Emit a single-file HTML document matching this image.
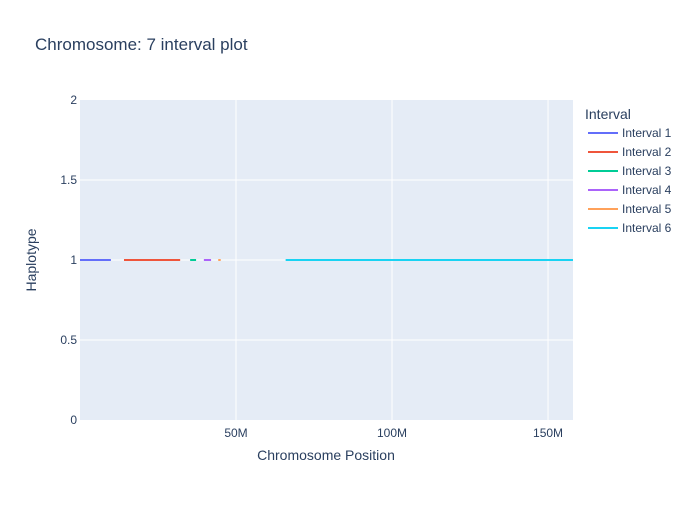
<!DOCTYPE html>
<html><head><meta charset="utf-8"><style>
body{margin:0;background:#fff;font-family:"Liberation Sans",Arial,sans-serif}
</style></head><body>
<svg id="chart" width="700" height="500" xmlns="http://www.w3.org/2000/svg" font-family="Liberation Sans, Arial, sans-serif">
<rect width="700" height="500" fill="#fff"/>
<text x="35" y="50" font-size="17" fill="#2a3f5f">Chromosome: 7 interval plot</text>
<rect x="80" y="100" width="493" height="320" fill="#e5ecf6"/>
<g id="grid"></g>
<g id="marks"></g>
<g id="axes"></g>
<text x="326" y="460" font-size="14" fill="#2a3f5f" text-anchor="middle">Chromosome Position</text>
<text transform="translate(36,260) rotate(-90)" font-size="14" fill="#2a3f5f" text-anchor="middle">Haplotype</text>
<text x="585" y="119" font-size="14" fill="#2a3f5f">Interval</text>
<g id="legend"></g>
</svg>
<script>
const names=["Interval 1","Interval 2","Interval 3","Interval 4","Interval 5","Interval 6"];
const starts=[0,14.1,35.3,39.7,44.3,65.9];
const ends=[9.9,32.1,37.2,42.0,45.1,158];
const haplotype=[1,1,1,1,1,1];
const colors=["#636efa","#EF553B","#00cc96","#ab63fa","#FFA15A","#19d3f3"];
const xTicks=[50,100,150];
const xTickLabels=["50M","100M","150M"];
const yTicks=[0,0.5,1,1.5,2];
const yTickLabels=["0","0.5","1","1.5","2"];
const X0=80,X1=573,Y0=420,Y1=100,xMax=158;
const xs=v=>X0+v/xMax*(X1-X0);
const ys=v=>Y0-v/2*(Y0-Y1);
const NS="http://www.w3.org/2000/svg";
function mk(tag,attrs,parent){const e=document.createElementNS(NS,tag);for(const k in attrs)e.setAttribute(k,attrs[k]);document.getElementById(parent).appendChild(e);return e;}
xTicks.forEach((t,i)=>{
 const l=mk("line",{x1:xs(t),x2:xs(t),y1:Y1,y2:Y0,stroke:"#fff","stroke-width":1},"grid");
 
 
 const tx=mk("text",{x:xs(t),y:437,"font-size":12,fill:"#2a3f5f","text-anchor":"middle"},"axes");
 tx.textContent=xTickLabels[i];
 
 
});
yTicks.forEach((t,i)=>{
 if(t>0&&t<2){const l=mk("line",{x1:X0,x2:X1,y1:ys(t),y2:ys(t),stroke:"#fff","stroke-width":1},"grid");
 
 }
 const tx=mk("text",{x:77,y:ys(t)+4,"font-size":12,fill:"#2a3f5f","text-anchor":"end"},"axes");
 tx.textContent=yTickLabels[i];
 
 
});
names.forEach((n,i)=>{
 const l=mk("line",{x1:xs(starts[i]),x2:xs(ends[i]),y1:ys(haplotype[i]),y2:ys(haplotype[i]),stroke:colors[i],"stroke-width":2},"marks");
 
 
 const y=133+i*19;
 const ll=mk("line",{x1:588,x2:618,y1:y,y2:y,stroke:colors[i],"stroke-width":2},"legend");
 
 
 const t=mk("text",{x:622,y:y+4,"font-size":12,fill:"#2a3f5f"},"legend");
 t.textContent=n;
 
 
});
</script>
</body></html>
